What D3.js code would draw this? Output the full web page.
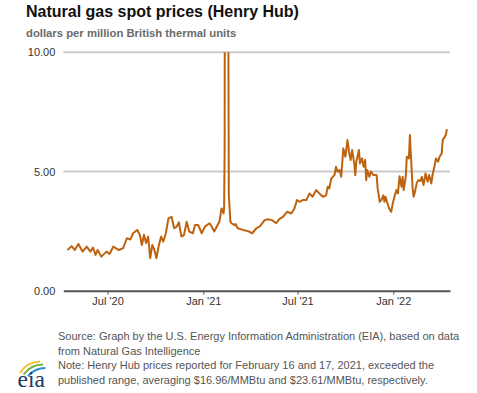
<!DOCTYPE html>
<html><head><meta charset="utf-8">
<script src="https://cdn.jsdelivr.net/npm/d3@7"></script>
<style>
html,body{margin:0;padding:0;background:#fff;}
svg{display:block;font-family:"Liberation Sans",Arial,sans-serif;}
</style></head>
<body>
<svg id="chart" width="477" height="393"></svg>
<script>
// ---- data ----
const dates = [
"2020-04-15","2020-04-23","2020-04-29","2020-05-06","2020-05-14","2020-05-22","2020-05-29","2020-06-03","2020-06-08","2020-06-12",
"2020-06-19","2020-06-29","2020-07-05","2020-07-12","2020-07-22","2020-07-31","2020-08-07","2020-08-14","2020-08-19","2020-08-27",
"2020-09-01","2020-09-05","2020-09-09","2020-09-13","2020-09-17","2020-09-21","2020-09-25","2020-09-29","2020-10-03","2020-10-07",
"2020-10-12","2020-10-16","2020-10-21","2020-10-26","2020-11-01","2020-11-06","2020-11-11","2020-11-15","2020-11-20","2020-11-25",
"2020-11-30","2020-12-05","2020-12-12","2020-12-16","2020-12-22","2020-12-29","2021-01-04","2021-01-13","2021-01-17","2021-01-22",
"2021-01-27","2021-02-01","2021-02-03","2021-02-05","2021-02-09","2021-02-10","2021-02-11","2021-02-12","2021-02-16","2021-02-17",
"2021-02-18","2021-02-19","2021-02-22","2021-02-24","2021-03-02","2021-03-04","2021-03-08","2021-03-18","2021-03-28","2021-04-05",
"2021-04-13","2021-04-20","2021-04-29","2021-05-05","2021-05-13","2021-05-21","2021-05-27","2021-06-03","2021-06-11","2021-06-19",
"2021-06-25","2021-06-30","2021-07-05","2021-07-11","2021-07-18","2021-07-24","2021-07-30","2021-08-06","2021-08-12","2021-08-19",
"2021-08-25","2021-08-28","2021-08-31","2021-09-04","2021-09-10","2021-09-13","2021-09-16","2021-09-20","2021-09-23","2021-09-27",
"2021-10-01","2021-10-05","2021-10-08","2021-10-11","2021-10-14","2021-10-18","2021-10-20","2021-10-22","2021-10-27","2021-10-29",
"2021-11-02","2021-11-05","2021-11-08","2021-11-10","2021-11-12","2021-11-16","2021-11-19","2021-11-24","2021-11-30","2021-12-02",
"2021-12-06","2021-12-09","2021-12-13","2021-12-15","2021-12-17","2021-12-21","2021-12-24","2021-12-28","2021-12-31","2022-01-04",
"2022-01-07","2022-01-10","2022-01-13","2022-01-17","2022-01-19","2022-01-21","2022-01-25","2022-01-27","2022-01-31","2022-02-02",
"2022-02-04","2022-02-07","2022-02-09","2022-02-11","2022-02-15","2022-02-18","2022-02-22","2022-02-25","2022-02-28","2022-03-03",
"2022-03-04","2022-03-08","2022-03-11","2022-03-15","2022-03-18","2022-03-21","2022-03-24","2022-03-28","2022-03-31","2022-04-04",
"2022-04-06","2022-04-08","2022-04-12","2022-04-14"
];
const prices = [
1.71,1.87,1.71,1.96,1.64,1.85,1.64,1.81,1.50,1.71,
1.43,1.64,1.54,1.85,1.71,1.78,2.20,2.15,2.41,2.55,
2.35,1.92,2.35,2.00,2.27,1.36,1.92,1.71,1.36,1.85,
2.27,2.06,2.41,3.03,3.10,2.62,2.69,2.87,2.27,2.34,
2.89,2.48,2.41,2.76,2.76,2.41,2.69,2.83,2.69,2.48,
2.69,2.90,3.17,3.45,3.24,3.50,5.97,23.86,16.96,23.61,
12.00,4.00,2.90,2.83,2.75,2.80,2.62,2.55,2.50,2.41,
2.62,2.71,2.96,3.00,2.96,2.83,3.00,3.10,3.31,3.24,
3.45,3.80,3.73,3.80,3.80,4.08,3.94,4.22,4.08,3.94,
4.00,4.36,4.29,4.71,4.85,5.20,4.99,5.06,4.78,5.97,
5.62,6.32,5.83,5.48,5.90,5.34,4.85,5.41,5.90,5.34,
5.55,5.20,5.48,4.64,5.06,4.78,5.00,4.85,4.85,4.29,
3.73,3.80,4.00,3.73,3.94,3.66,3.45,3.31,3.66,4.00,
4.22,4.08,4.80,4.36,4.78,4.22,4.78,5.62,5.55,6.53,
5.62,4.36,3.94,4.08,4.50,4.64,4.60,4.78,4.43,4.78,
4.92,4.57,4.85,4.50,4.92,5.20,5.55,5.41,5.62,5.76,
6.32,6.39,6.53,6.77
];
const yTicks = [0, 5, 10];
const xTickDates = ["2020-07-01","2021-01-01","2021-07-01","2022-01-01"];
const xTickLabels = ["Jul '20","Jan '21","Jul '21","Jan '22"];
const xDomain = ["2020-04-07","2022-04-20"];
const title = "Natural gas spot prices (Henry Hub)";
const subtitle = "dollars per million British thermal units";
const notes = [
"Source: Graph by the U.S. Energy Information Administration (EIA), based on data",
"from Natural Gas Intelligence",
"Note: Henry Hub prices reported for February 16 and 17, 2021, exceeded the",
"published range, averaging $16.96/MMBtu and $23.61/MMBtu, respectively."
];

// ---- chart ----
const parse = d3.utcParse("%Y-%m-%d");
const data = dates.map((d,i)=>({date:parse(d), value:prices[i]}));
const svg = d3.select("#chart");
const L = 63.3, R = 450, T = 52.3, B = 290.7;
const x = d3.scaleUtc().domain(xDomain.map(parse)).range([L, R]);
const y = d3.scaleLinear().domain([0, 10]).range([B, T]);

svg.append("text").attr("x", 26).attr("y", 17)
  .attr("font-size", 16).attr("font-weight", "bold").attr("fill", "#111").text(title);
svg.append("text").attr("x", 26).attr("y", 36.5)
  .attr("font-size", 11.3).attr("font-weight", "bold").attr("fill", "#6b6b6b").text(subtitle);

// gridlines
svg.append("g").selectAll("line").data(yTicks.filter(v=>v>0)).join("line")
  .attr("x1", L).attr("x2", R).attr("y1", d=>y(d)).attr("y2", d=>y(d))
  .attr("stroke", "#cccccc").attr("stroke-width", 2);

// y labels
const yAxis = d3.axisLeft(y).tickValues(yTicks).tickFormat(d3.format(".2f")).tickSize(0).tickPadding(8);
const gy = svg.append("g").attr("transform", `translate(${L},0)`).call(yAxis);
gy.select(".domain").remove();
gy.selectAll("text").attr("font-size", 11).attr("fill", "#333").attr("font-family", "Liberation Sans, Arial, sans-serif");

// x axis
const xAxis = d3.axisBottom(x).tickValues(xTickDates.map(parse))
  .tickFormat((d,i)=>xTickLabels[i]).tickSize(4).tickPadding(3).tickSizeOuter(0);
const gx = svg.append("g").attr("transform", `translate(0,${B})`).call(xAxis);
gx.select(".domain").attr("stroke", "#555").attr("stroke-width", 2);
gx.selectAll(".tick line").attr("stroke", "#555").attr("stroke-width", 1);
gx.selectAll("text").attr("font-size", 11).attr("fill", "#333").attr("font-family", "Liberation Sans, Arial, sans-serif");

// clip & line
svg.append("clipPath").attr("id", "clip").append("rect")
  .attr("x", L).attr("y", T).attr("width", R - L).attr("height", B - T);
const line = d3.line().x(d=>x(d.date)).y(d=>y(d.value));
svg.append("path").datum(data).attr("clip-path", "url(#clip)")
  .attr("d", line).attr("fill", "none").attr("stroke", "#bd6310")
  .attr("stroke-width", 2).attr("stroke-linejoin", "round");

// footnotes
svg.append("g").selectAll("text").data(notes).join("text")
  .attr("x", 58).attr("y", (d,i)=>340 + i*14.6)
  .attr("font-size", 11).attr("fill", "#555").text(d=>d);

// eia logo
const logo = svg.append("g");
const arcs = [["#f2c12e", "M20,373 Q27,362 40,361.5"], ["#6fb43f", "M23.5,374.5 Q31,364.5 43,364.5"], ["#2a8fd0", "M28,376 Q35,368 45.5,368"]];
arcs.forEach(([c, p]) => {
  logo.append("path").attr("d", p)
    .attr("fill", "none").attr("stroke", c).attr("stroke-width", 2);
});
logo.append("text").attr("x", 17.5).attr("y", 386.5)
  .attr("font-family", "Liberation Serif, DejaVu Serif, serif").attr("font-size", 23.5)
  .attr("fill", "#1d3a63").text("eia");
</script>
</body></html>
